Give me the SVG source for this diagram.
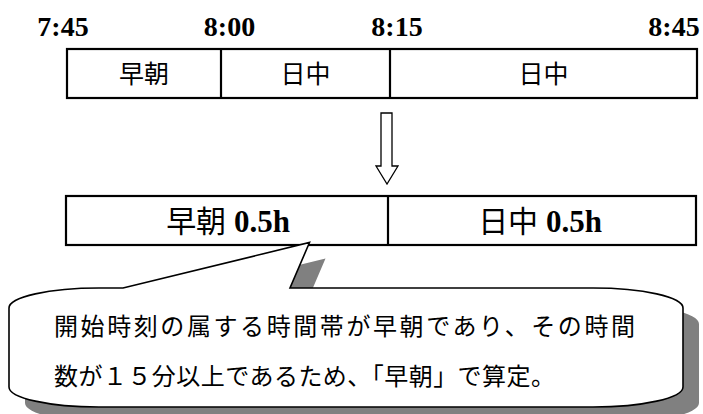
<svg xmlns="http://www.w3.org/2000/svg" width="703" height="414" viewBox="0 0 703 414">
<style>
.time{font-family:"Liberation Serif","DejaVu Serif",serif;font-size:28px;font-weight:bold;fill:#000;text-anchor:middle}
.cell{font-family:"Noto Sans CJK JP","Noto Sans",sans-serif;font-size:25px;fill:#000;text-anchor:middle}
.big{font-family:"Noto Sans CJK JP","Noto Sans",sans-serif;font-size:30px;fill:#000;text-anchor:middle}
.ser{font-family:"Liberation Serif","DejaVu Serif",serif;font-size:31px;font-weight:bold}
.note{font-family:"Noto Sans CJK JP","Noto Sans",sans-serif;font-size:24px;fill:#000}
.box{fill:#fff;stroke:#000;stroke-width:2.2}
.ln{stroke:#000;stroke-width:2.2;fill:none}
</style>
<g id="times">
<text class="time" x="63" y="36">7:45</text>
<text class="time" x="229.5" y="36">8:00</text>
<text class="time" x="397" y="36">8:15</text>
<text class="time" x="674" y="36">8:45</text>
</g>
<g id="top-bar">
<rect class="box" x="67" y="49" width="630" height="49"/>
<line class="ln" x1="221" y1="49" x2="221" y2="98"/>
<line class="ln" x1="390" y1="49" x2="390" y2="98"/>
<text class="cell" x="144" y="83">早朝</text>
<text class="cell" x="305.5" y="83">日中</text>
<text class="cell" x="543.5" y="83">日中</text>
</g>
<g id="arrow">
<path d="M381,113 L392,113 L392,166 L398,166 L387,184 L376,166 L381,166 Z" fill="#fff" stroke="#000" stroke-width="1.3" stroke-linejoin="miter"/>
</g>
<g id="bottom-bar">
<rect class="box" x="66" y="196" width="630" height="49"/>
<line class="ln" x1="388" y1="196" x2="388" y2="245"/>
<text class="big" x="228" y="232">早朝<tspan class="ser"> 0.5h</tspan></text>
<text class="big" x="540" y="232">日中<tspan class="ser"> 0.5h</tspan></text>
</g>
<g id="callout">
<path transform="translate(16,16)" fill="#808080" d="M99,288 L123,288 L309.5,242.5 L290,288 L593,288 A90 20 0 0 1 683,308 L683,387 A90 20 0 0 1 593,407 L99,407 A90 20 0 0 1 9,387 L9,308 A90 20 0 0 1 99,288 Z"/>
<path fill="#fff" stroke="#000" stroke-width="1.6" stroke-linejoin="miter" d="M99,288 L123,288 L309.5,242.5 L290,288 L593,288 A90 20 0 0 1 683,308 L683,387 A90 20 0 0 1 593,407 L99,407 A90 20 0 0 1 9,387 L9,308 A90 20 0 0 1 99,288 Z"/>
<text class="note" x="54" y="335" textLength="581" lengthAdjust="spacing">開始時刻の属する時間帯が早朝であり、その時間</text>
<text class="note" x="54" y="385" textLength="501" lengthAdjust="spacing">数が１５分以上であるため、「早朝」で算定。</text>
</g>
</svg>
